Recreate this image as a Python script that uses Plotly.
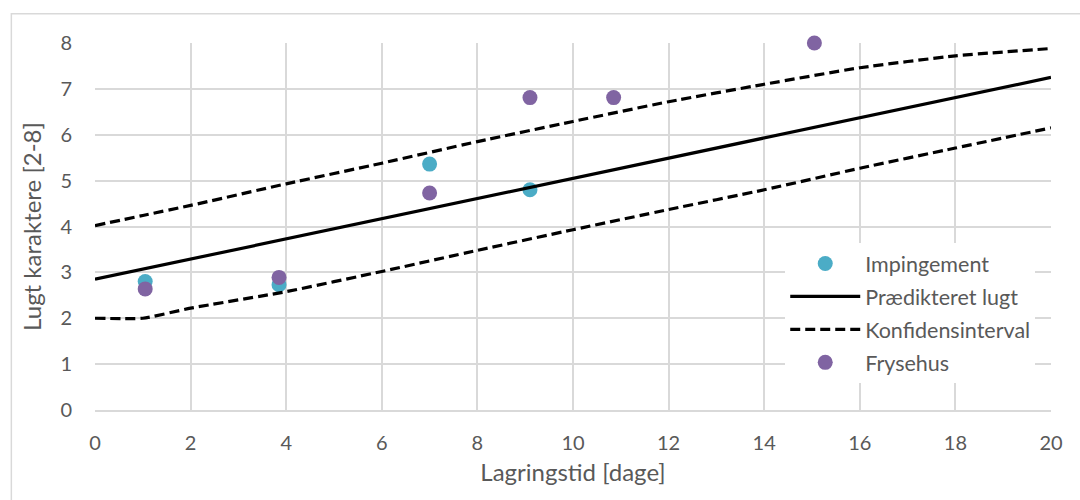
import plotly.graph_objects as go

# Data
imp_x = [1.05, 3.85, 7.0, 9.1]
imp_y = [2.80, 2.73, 5.36, 4.80]

fry_x = [1.05, 3.85, 7.0, 9.1, 10.85, 15.05]
fry_y = [2.64, 2.89, 4.73, 6.81, 6.81, 8.0]

pred_x = [0, 20]
pred_y = [2.85, 7.25]

ci_x = [0, 1, 2, 4, 6, 8, 10, 12, 14, 16, 18, 20]
ci_upper = [4.02, 4.24, 4.46, 4.93, 5.38, 5.85, 6.29, 6.72, 7.10, 7.46, 7.72, 7.88]
ci_lower = [2.00, 2.00, 2.22, 2.58, 3.02, 3.48, 3.93, 4.37, 4.80, 5.27, 5.71, 6.15]

x_ticks = [0, 2, 4, 6, 8, 10, 12, 14, 16, 18, 20]
y_ticks = [0, 1, 2, 3, 4, 5, 6, 7, 8]

TEXT = "#595959"
GRID = "#d9d9d9"
FONT = "Lato"

fig = go.Figure()
fig.add_trace(go.Scatter(x=imp_x, y=imp_y, mode="markers", name="Impingement",
                         cliponaxis=False,
                         marker=dict(color="#4bacc6", size=15)))
fig.add_trace(go.Scatter(x=pred_x, y=pred_y, mode="lines", name="Prædikteret lugt",
                         line=dict(color="black", width=3.2)))
fig.add_trace(go.Scatter(x=ci_x, y=ci_upper, mode="lines", name="Konfidensinterval",
                         legendgroup="ci",
                         line=dict(color="black", width=3.2, dash="10px,5px",
                                   shape="spline", smoothing=0.5)))
fig.add_trace(go.Scatter(x=ci_x, y=ci_lower, mode="lines", name="Konfidensinterval",
                         legendgroup="ci", showlegend=False,
                         line=dict(color="black", width=3.2, dash="10px,5px",
                                   shape="spline", smoothing=0.5)))
fig.add_trace(go.Scatter(x=fry_x, y=fry_y, mode="markers", name="Frysehus",
                         cliponaxis=False,
                         marker=dict(color="#8064a2", size=15)))

fig.update_layout(
    width=1080, height=500,
    margin=dict(l=95, r=29, t=43, b=90),
    paper_bgcolor="white", plot_bgcolor="white",
    font=dict(family=FONT, size=20, color=TEXT),
    legend=dict(x=0.722, y=0.455, xanchor="left", yanchor="top",
                bgcolor="white", itemwidth=70, tracegroupgap=2,
                font=dict(size=21.5, color=TEXT)),
    xaxis=dict(range=[0, 20], tickvals=x_ticks, showgrid=True, gridcolor=GRID,
               gridwidth=1.5, zeroline=False, showline=True, linecolor=GRID, linewidth=1.5,
               ticks="outside", ticklen=14, tickcolor="rgba(0,0,0,0)",
               title=dict(text="Lagringstid [dage]", standoff=11)),
    yaxis=dict(range=[0, 8], tickvals=y_ticks, showgrid=True, gridcolor=GRID,
               gridwidth=1.5, zeroline=False, showline=False,
               ticks="outside", ticklen=18, tickcolor="rgba(0,0,0,0)",
               title=dict(text="Lugt karaktere [2-8]", standoff=11)),
    shapes=[dict(type="rect", xref="paper", yref="paper", x0=-0.0875, x1=1.04,
                 y0=-0.4, y1=1.08, line=dict(color=GRID, width=1.5), layer="below")],
)

fig.write_html("out.html")
